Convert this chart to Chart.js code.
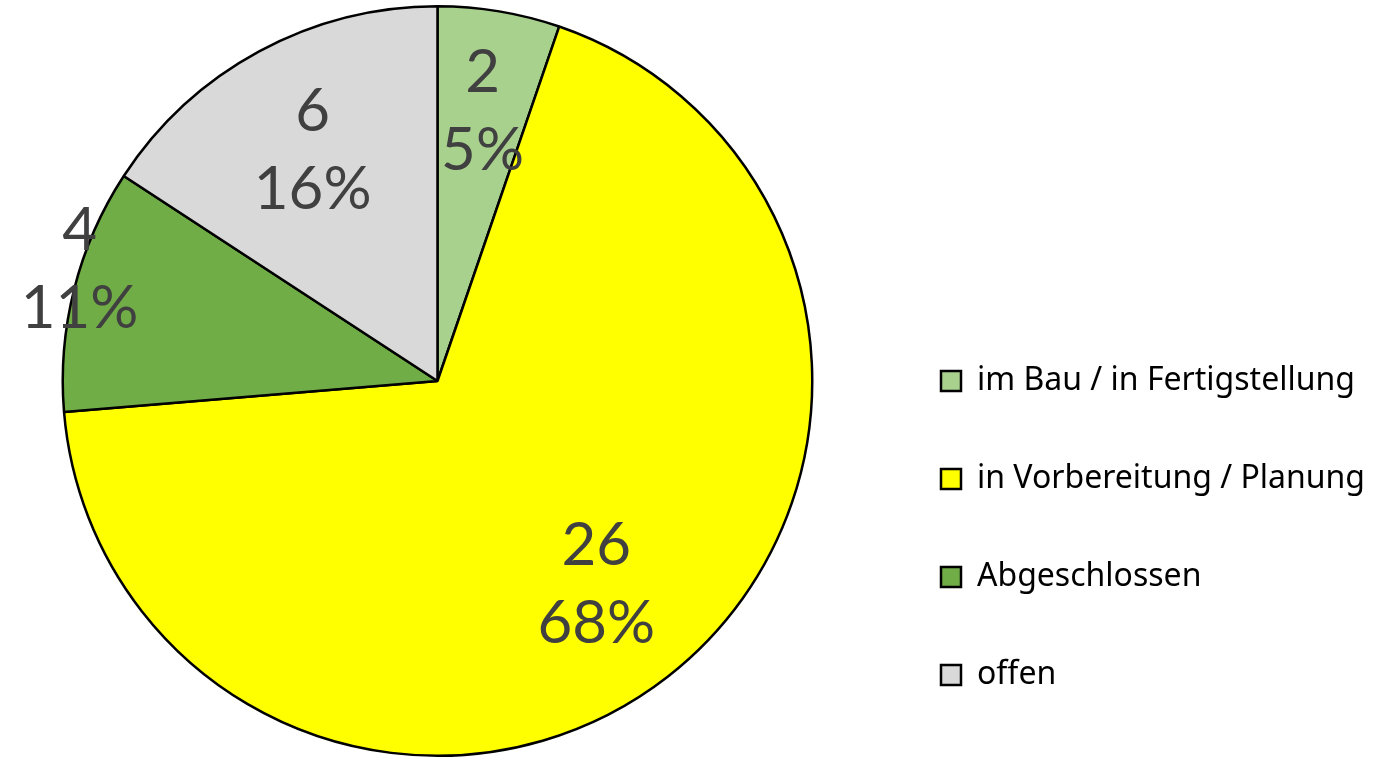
<!DOCTYPE html>
<html>
<head>
<meta charset="utf-8">
<script src="https://cdn.jsdelivr.net/npm/chart.js@4.4.1/dist/chart.umd.min.js"></script>
<style>
  html, body { margin: 0; padding: 0; background: #fff; }
  #wrap { width: 1397px; height: 758px; }
</style>
</head>
<body>
<div id="wrap"><canvas id="statusPie"></canvas></div>
<script>
// Projektstatus data
var categories = ['im Bau / in Fertigstellung', 'in Vorbereitung / Planung', 'Abgeschlossen', 'offen'];
var counts = [2, 26, 4, 6];
var sliceColors = ['#A9D18E', '#FFFF00', '#70AD47', '#D9D9D9'];

// where the labels sit: fraction of radius, shift of angle in degrees
var labelPlace = [[0.73, 0], [0.69, 0], [1.0, 3], [0.70, 0]];

var pieLabels = {
  id: 'pieLabels',
  afterDatasetsDraw: function (chart) {
    var ctx = chart.ctx;
    var meta = chart.getDatasetMeta(0);
    var data = chart.data.datasets[0].data;
    var total = data.reduce(function (a, b) { return a + b; }, 0);
    ctx.save();
    ctx.fillStyle = '#404040';
    ctx.font = '60px Lato';
    ctx.textAlign = 'center';
    ctx.textBaseline = 'middle';
    meta.data.forEach(function (arc, i) {
      var p = arc.getProps(['x', 'y', 'startAngle', 'endAngle', 'outerRadius'], true);
      var mid = (p.startAngle + p.endAngle) / 2 + labelPlace[i][1] * Math.PI / 180;
      var r = p.outerRadius * labelPlace[i][0];
      var x = p.x + Math.cos(mid) * r;
      var y = p.y + Math.sin(mid) * r;
      ctx.fillText(String(data[i]), x, y - 39);
      ctx.fillText(Math.round(data[i] / total * 100) + '%', x, y + 39);
    });
    ctx.restore();
  }
};

var ctx = document.getElementById('statusPie').getContext('2d');
var statusChart = new Chart(ctx, {
  type: 'pie',
  data: {
    labels: categories,
    datasets: [
      {
        data: counts,
        backgroundColor: sliceColors,
        borderColor: '#000000',
        borderWidth: 2.5,
      },
    ],
  },
  options: {
    responsive: true,
    maintainAspectRatio: false,
    animation: false,
    layout: {
      padding: { left: 0, top: 5, bottom: 1, right: 22 },
    },
    plugins: {
      legend: {
        position: 'right',
        align: 'end',
        labels: {
          color: '#000000',
          font: { family: 'Noto Sans', size: 32 },
          boxWidth: 20,
          boxHeight: 20,
          padding: 66,
          generateLabels: function (chart) {
            var ds = chart.data.datasets[0];
            return chart.data.labels.map(function (label, i) {
              return {
                text: label,
                fillStyle: ds.backgroundColor[i],
                strokeStyle: '#000000',
                lineWidth: 2.5,
                index: i,
              };
            });
          },
        },
      },
      tooltip: {
        enabled: false,
      },
    },
  },
  plugins: [pieLabels],
});
</script>
</body>
</html>
